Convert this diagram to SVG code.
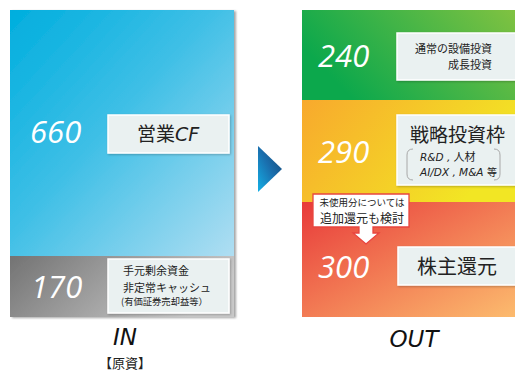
<svg xmlns="http://www.w3.org/2000/svg" width="515" height="372" viewBox="0 0 515 372">
<defs>
<style>
.num{font-family:"Open Sans","DejaVu Sans",sans-serif;font-style:italic;fill:#ffffff;font-size:31px}
.jp{font-family:"Noto Sans CJK JP","Noto Sans",sans-serif;fill:#222}
.lat{font-family:"DejaVu Sans","Noto Sans CJK JP",sans-serif;font-style:italic;fill:#222}
.box{fill:#eaf1f1;stroke:#ffffff;stroke-width:1.5}
.cap{font-family:"DejaVu Sans",sans-serif;font-style:italic;fill:#111;font-size:23px}
</style>
<linearGradient id="gBlue" x1="0" y1="0" x2="1" y2="1">
<stop offset="0" stop-color="#00aede"/>
<stop offset="0.45" stop-color="#3ebfe6"/>
<stop offset="1" stop-color="#b0def2"/>
</linearGradient>
<linearGradient id="gGray" x1="0" y1="0" x2="1" y2="0.3">
<stop offset="0" stop-color="#737373"/>
<stop offset="1" stop-color="#c9c9c9"/>
</linearGradient>
<linearGradient id="gGreen" x1="0" y1="0.4" x2="1" y2="0">
<stop offset="0" stop-color="#0ca84c"/>
<stop offset="1" stop-color="#80c241"/>
</linearGradient>
<linearGradient id="gOrange" x1="0" y1="0" x2="1" y2="0.4">
<stop offset="0" stop-color="#f8a92d"/>
<stop offset="1" stop-color="#f2e624"/>
</linearGradient>
<linearGradient id="gRed" x1="0" y1="0" x2="1" y2="1">
<stop offset="0" stop-color="#e83a3a"/>
<stop offset="0.5" stop-color="#f27b54"/>
<stop offset="1" stop-color="#fcbb6e"/>
</linearGradient>
<linearGradient id="gArrow" x1="1" y1="0" x2="0" y2="1">
<stop offset="0" stop-color="#17426f"/>
<stop offset="0.5" stop-color="#1a6fae"/>
<stop offset="1" stop-color="#14b0e6"/>
</linearGradient>
<filter id="sh" x="-10%" y="-10%" width="130%" height="130%">
<feDropShadow dx="2" dy="1" stdDeviation="1" flood-color="#000" flood-opacity="0.35"/>
</filter>
<filter id="shs" x="-10%" y="-10%" width="130%" height="130%">
<feDropShadow dx="1" dy="1" stdDeviation="0.8" flood-color="#000" flood-opacity="0.25"/>
</filter>
</defs>

<g id="in-panel">
<g filter="url(#sh)">
<rect x="10" y="10" width="224" height="247" fill="url(#gBlue)"/>
<rect x="10" y="256" width="224" height="61" fill="url(#gGray)"/>
</g>
</g>

<g id="in-opcf">
<text class="num" x="30" y="143">660</text>
<rect class="box" x="108" y="115" width="121" height="38" filter="url(#shs)"/>
<text class="jp" x="168" y="141" font-size="19" text-anchor="middle">営業<tspan class="lat" font-size="19" font-family="DejaVu Sans">CF</tspan></text>
</g>

<g id="in-surplus">
<text class="num" x="31" y="298">170</text>
<rect class="box" x="108" y="259" width="121" height="54" filter="url(#shs)"/>
<text class="jp" x="123" y="275" font-size="11">手元剰余資金</text>
<text class="jp" x="123" y="292" font-size="11">非定常キャッシュ</text>
<text class="jp" x="121" y="305" font-size="9.3">(有価証券売却益等）</text>
</g>

<g id="in-caption">
<text class="cap" x="125" y="345" text-anchor="middle">IN</text>
<text class="jp" x="125" y="368" font-size="13" text-anchor="middle" fill="#111">【原資】</text>
</g>

<g id="connectors">
<polygon points="258,146 282,169 258,192" fill="url(#gArrow)"/>
</g>

<g id="out-panel">
<rect x="302" y="10" width="213" height="90" fill="url(#gGreen)"/>
<rect x="302" y="100" width="213" height="102" fill="url(#gOrange)"/>
<rect x="302" y="202" width="213" height="115" fill="url(#gRed)"/>
</g>

<g id="out-capex">
<text class="num" x="318" y="67">240</text>
<rect class="box" x="397" y="33" width="125" height="47" filter="url(#shs)"/>
<text class="jp" x="492" y="53" font-size="11" text-anchor="end">通常の設備投資</text>
<text class="jp" x="492" y="69" font-size="11" text-anchor="end">成長投資</text>
</g>

<g id="out-strategic">
<text class="num" x="318" y="163">290</text>
<rect class="box" x="397" y="115" width="125" height="70" filter="url(#shs)"/>
<text class="jp" x="410" y="142" font-size="19">戦略投資枠</text>
<path d="M413,149 Q407,149 407,155 L407,174 Q407,180 413,180 M494,149 Q500,149 500,155 L500,174 Q500,180 494,180" fill="none" stroke="#a8a8a8" stroke-width="1"/>
<text class="lat" x="420" y="161" font-size="10.5">R&amp;D , <tspan class="jp" font-style="normal" font-size="11">人材</tspan></text>
<text class="lat" x="420" y="176" font-size="10.5">AI/DX , M&amp;A <tspan class="jp" font-style="normal" font-size="10">等</tspan></text>
</g>

<g id="out-return">
<text class="num" x="318" y="278">300</text>
<rect class="box" x="398" y="247" width="124" height="38" filter="url(#shs)"/>
<text class="jp" x="417" y="274" font-size="20">株主還元</text>
</g>

<g id="out-callout">
<path d="M313,194 H409 V227 H373 V233 H379 L366,244 L353,233 H359 V227 H313 Z" fill="#ffffff" stroke="#e8453f" stroke-width="1.3"/>
<text class="jp" x="362" y="206" font-size="9.5" text-anchor="middle">未使用分については</text>
<text class="jp" x="362" y="223" font-size="12" text-anchor="middle">追加還元も検討</text>
</g>

<g id="out-caption">
<text class="cap" x="414" y="347" text-anchor="middle">OUT</text>
</g>
</svg>
